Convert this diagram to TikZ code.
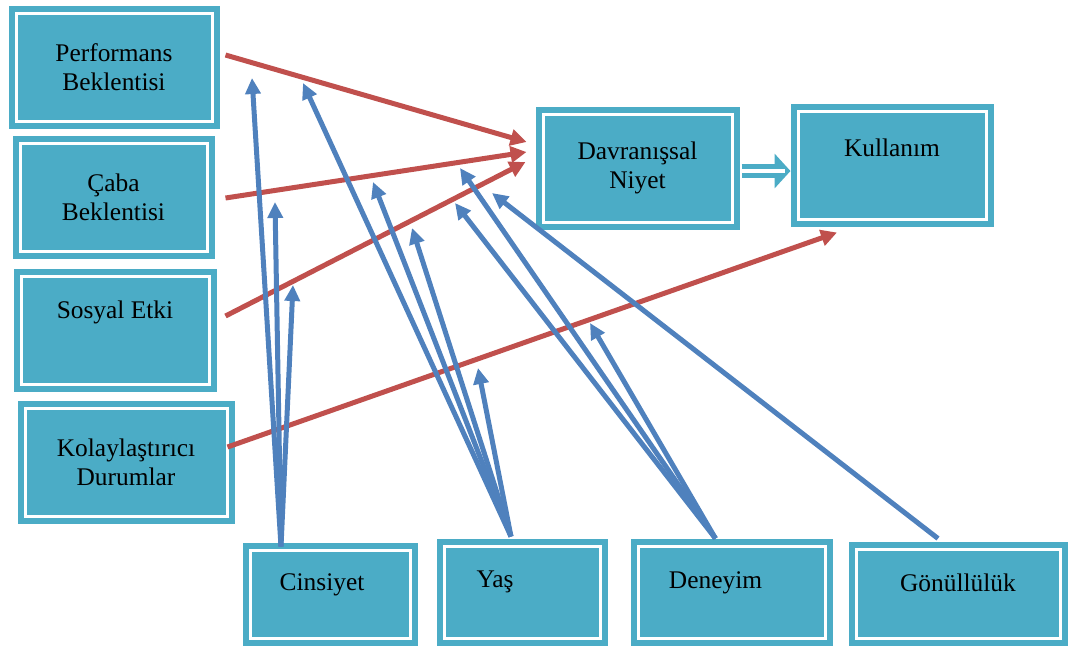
\documentclass[tikz,border=0pt]{standalone}
\usepackage{fontspec}
\setmainfont{Liberation Serif}
\usepackage{xcolor}
\usetikzlibrary{arrows.meta}
\definecolor{myteal}{RGB}{75, 172, 198}
\definecolor{myred}{RGB}{192, 80, 77}
\definecolor{myblue}{RGB}{79, 129, 189}

\begin{document}
\begin{tikzpicture}[
            x=0.5pt, y=-0.5pt,
            box/.style={
                rectangle,
                draw=white,
                line width=1.5pt,
                fill=myteal,
                preaction={draw=myteal, line width=7.5pt},
                align=center,
                inner sep=0pt,
                font=\fontsize{12.7pt}{14.5pt}\selectfont
            },
            effect/.style={myred, line width=2.5pt, -{Triangle[length=8pt, width=8pt]}},
            moderator/.style={myblue, line width=2.5pt, -{Triangle[length=8pt, width=7.5pt]}},
            implies/.style={myteal, line width=7pt, -{Triangle[length=8pt, width=17pt]},
                postaction={draw=white, line width=2pt, shorten >=3pt, -}}
        ]

            \useasboundingbox (0,0) rectangle (1071,645);

            % Nodes
            \node[box, minimum width=98pt, minimum height=54pt] (perf) at (114,67) {Performans\\Beklentisi};
            \node[box, minimum width=93.5pt, minimum height=54pt] (caba) at (113.5,197) {Çaba\\Beklentisi};
            \node[box, minimum width=94pt, minimum height=54pt, text depth=20.8pt] (sosyal) at (115,330) {Sosyal Etki};
            \node[box, minimum width=101pt, minimum height=54pt] (kolay) at (126,462) {Kolaylaştırıcı\\Durumlar};
            \node[box, minimum width=94.5pt, minimum height=54pt] (niyet) at (637.5,168) {Davranışsal\\Niyet};
            \node[box, minimum width=94pt, minimum height=54pt, text depth=17.5pt] (kullanim) at (892,165) {Kullanım};

            \node[box, minimum width=80pt, minimum height=44pt, text depth=11.8pt] (cins) at (330,594) {Cinsiyet\hspace*{8pt}};
            \node[box, minimum width=78pt, minimum height=46pt, text depth=12.7pt] (yas) at (522,592) {Yaş\hspace*{27pt}};
            \node[box, minimum width=93.5pt, minimum height=46pt, text depth=11.8pt] (deneyim) at (731.5,592) {Deneyim\hspace*{16pt}};
            \node[box, minimum width=102pt, minimum height=44.5pt, text depth=11pt] (gonul) at (958,593.5) {Gönüllülük};

            % Fan origins and tips
            \coordinate (cinsTop) at ([shift={(-49,-2)}]cins.north);
            \coordinate (yasTop) at ([shift={(-11,-8)}]yas.north);
            \coordinate (denTop) at ([shift={(-16,-6)}]deneyim.north);
            \coordinate (gonTop) at ([shift={(-20,-9)}]gonul.north);

            \coordinate (cinsA) at (252,78);
            \coordinate (cinsB) at (275,202);
            \coordinate (cinsC) at (293,285);
            \coordinate (yasA) at (303,83);
            \coordinate (yasB) at (373,182);
            \coordinate (yasC) at (412,228);
            \coordinate (yasD) at (478,368);
            \coordinate (denA) at (460,168);
            \coordinate (denB) at (455,203);
            \coordinate (denC) at (590,323);
            \coordinate (gonA) at (492,193);

            % Arrows
            \draw[effect] ([shift={(12,-12)}]perf.east) -- ([shift={(-15,-26)}]niyet.west);
            \draw[effect] ([shift={(17,1)}]caba.east) -- ([shift={(-15,-16)}]niyet.west);
            \draw[effect] ([shift={(15,-14)}]sosyal.east) -- ([shift={(-16,-6)}]niyet.west);
            \draw[effect] ([shift={(-1,-15)}]kolay.east) -- ([shift={(-55,12)}]kullanim.south);

            \draw[moderator] (cinsTop) -- (cinsA);
            \draw[moderator] (cinsTop) -- (cinsB);
            \draw[moderator] (cinsTop) -- (cinsC);
            \draw[moderator] (yasTop) -- (yasA);
            \draw[moderator] (yasTop) -- (yasB);
            \draw[moderator] (yasTop) -- (yasC);
            \draw[moderator] (yasTop) -- (yasD);
            \draw[moderator] (denTop) -- (denA);
            \draw[moderator] (denTop) -- (denB);
            \draw[moderator] (denTop) -- (denC);
            \draw[moderator] (gonTop) -- (gonA);

            \draw[implies] ([shift={(8,3)}]niyet.east) -- ([shift={(-6,6)}]kullanim.west);
        \end{tikzpicture}
\end{document}
